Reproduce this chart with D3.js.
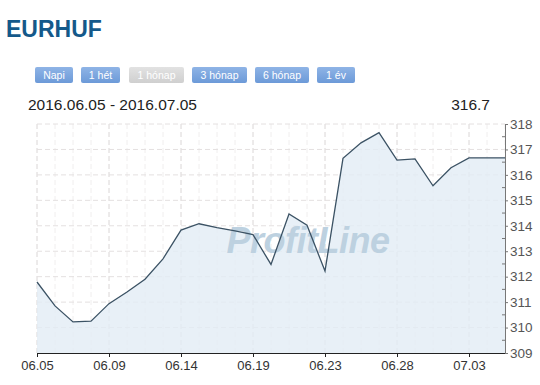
<!DOCTYPE html>
<html>
<head>
<meta charset="utf-8">
<script src="https://cdn.jsdelivr.net/npm/d3@7"></script>
<style>
  body { margin: 0; background: #fff; font-family: Arial, "Liberation Sans", sans-serif; }
</style>
</head>
<body>
<div id="chart"></div>
<script>
// Chart data (EURHUF, one month)
const values = [311.79, 310.85, 310.22, 310.25, 310.94, 311.4, 311.9, 312.7, 313.83,
  314.08, 313.93, 313.8, 313.65, 312.48, 314.46, 314.02, 312.22, 316.65, 317.26,
  317.66, 316.58, 316.63, 315.57, 316.28, 316.67, 316.67, 316.67];
const tickIndex = [0, 4, 8, 12, 16, 20, 24];
const tickLabels = ["06.05", "06.09", "06.14", "06.19", "06.23", "06.28", "07.03"];
const yTicks = [309, 310, 311, 312, 313, 314, 315, 316, 317, 318];
const buttons = ["Napi", "1 hét", "1 hónap", "3 hónap", "6 hónap", "1 év"];
const activeButton = "1 hónap";
const rangeText = "2016.06.05 - 2016.07.05";
const lastValue = "316.7";

const width = 540, height = 385;
const margin = {top: 124, right: 35, bottom: 32, left: 37};
const innerW = width - margin.left - margin.right;
const innerH = height - margin.top - margin.bottom;

const svg = d3.select("#chart").append("svg")
  .attr("width", width)
  .attr("height", height)
  .style("font-family", "Arial, 'Liberation Sans', sans-serif");

// Title
svg.append("text")
  .attr("x", 6).attr("y", 37)
  .attr("fill", "#14598a")
  .attr("font-size", "23px")
  .attr("font-weight", "bold")
  .text("EURHUF");

// Period buttons
const btnWidths = {"Napi": 38, "1 hét": 39, "1 hónap": 55, "3 hónap": 55, "6 hónap": 54, "1 év": 38};
const btnStarts = {"Napi": 35, "1 hét": 81, "1 hónap": 129, "3 hónap": 192, "6 hónap": 255, "1 év": 317};
const defs = svg.append("defs");
const gBlue = defs.append("linearGradient").attr("id", "btnBlue").attr("x1", 0).attr("x2", 0).attr("y1", 0).attr("y2", 1);
gBlue.append("stop").attr("offset", "0%").attr("stop-color", "#8fb4e6");
gBlue.append("stop").attr("offset", "100%").attr("stop-color", "#6c9ad8");
const gGrey = defs.append("linearGradient").attr("id", "btnGrey").attr("x1", 0).attr("x2", 0).attr("y1", 0).attr("y2", 1);
gGrey.append("stop").attr("offset", "0%").attr("stop-color", "#e2e2e2");
gGrey.append("stop").attr("offset", "100%").attr("stop-color", "#cfcfcf");

const btn = svg.append("g").selectAll("g").data(buttons).join("g")
  .attr("transform", d => `translate(${btnStarts[d]},67)`);
btn.append("rect")
  .attr("width", d => btnWidths[d]).attr("height", 16).attr("rx", 2)
  .attr("fill", d => d === activeButton ? "url(#btnGrey)" : "url(#btnBlue)");
btn.append("text")
  .attr("x", d => btnWidths[d] / 2).attr("y", 12)
  .attr("text-anchor", "middle")
  .attr("fill", "#fff")
  .attr("font-size", "10.5px")
  .text(d => d);

// Header texts
svg.append("text")
  .attr("x", 28).attr("y", 110)
  .attr("fill", "#222").attr("font-size", "15.5px")
  .text(rangeText);
svg.append("text")
  .attr("x", 490).attr("y", 110)
  .attr("text-anchor", "end")
  .attr("fill", "#222").attr("font-size", "15.5px")
  .text(lastValue);

const g = svg.append("g").attr("transform", `translate(${margin.left},${margin.top})`);

const x = d3.scaleLinear().domain([0, values.length - 1]).range([0, innerW]);
const y = d3.scaleLinear().domain([309, 318]).range([innerH, 0]);

// Minor vertical grid (every point)
g.append("g").selectAll("line").data(d3.range(values.length)).join("line")
  .attr("x1", d => x(d)).attr("x2", d => x(d))
  .attr("y1", 0).attr("y2", innerH)
  .attr("stroke", "#f0eeee").attr("stroke-dasharray", "5,3");

// Major vertical grid
g.append("g").selectAll("line").data(tickIndex).join("line")
  .attr("x1", d => x(d)).attr("x2", d => x(d))
  .attr("y1", 0).attr("y2", innerH)
  .attr("stroke", "#e2dede").attr("stroke-dasharray", "5,3");

// Horizontal grid
g.append("g").selectAll("line").data(yTicks.slice(1)).join("line")
  .attr("x1", 0).attr("x2", innerW)
  .attr("y1", d => y(d)).attr("y2", d => y(d))
  .attr("stroke", "#e4e0e0").attr("stroke-dasharray", "5,3");

// Area
const area = d3.area()
  .x((d, i) => x(i))
  .y0(innerH)
  .y1(d => y(d));
g.append("path")
  .datum(values)
  .attr("fill", "#e2ecf5")
  .attr("opacity", 0.8)
  .attr("d", area);

// Watermark
g.append("text")
  .attr("x", 271).attr("y", 129)
  .attr("text-anchor", "middle")
  .attr("fill", "#bdd1e0")
  .attr("font-size", "36px")
  .attr("font-weight", "900")
  .attr("font-style", "italic")
  .attr("letter-spacing", "-0.5px")
  .text("ProfitLine");

// Line
const line = d3.line()
  .x((d, i) => x(i))
  .y(d => y(d));
g.append("path")
  .datum(values)
  .attr("fill", "none")
  .attr("stroke", "#3b5264")
  .attr("stroke-width", 1.3)
  .attr("d", line);

// Bottom axis
const xAxis = g.append("g")
  .attr("transform", `translate(0,${innerH})`)
  .call(d3.axisBottom(x)
    .tickValues(tickIndex)
    .tickFormat((d, i) => tickLabels[i])
    .tickSize(4)
    .tickSizeOuter(0));
xAxis.select(".domain").attr("stroke", "#222");
xAxis.selectAll(".tick line").attr("stroke", "#222");
xAxis.selectAll("text").attr("fill", "#333").attr("font-size", "13px")
  .attr("font-family", "Arial, 'Liberation Sans', sans-serif").attr("dy", "0.75em");

// Right axis
const yAxis = g.append("g")
  .attr("transform", `translate(${innerW},0)`)
  .call(d3.axisRight(y)
    .tickValues(yTicks)
    .tickFormat(d3.format("d"))
    .tickSize(3)
    .tickPadding(2)
    .tickSizeOuter(0));
yAxis.select(".domain").attr("stroke", "#777");
yAxis.selectAll(".tick line").attr("stroke", "#777");
yAxis.selectAll("text").attr("fill", "#555").attr("font-size", "13.5px")
  .attr("font-family", "Arial, 'Liberation Sans', sans-serif");

// Minor ticks on right axis
g.append("g").selectAll("line").data(yTicks.slice(1).map(v => v - 0.5)).join("line")
  .attr("x1", innerW - 3).attr("x2", innerW)
  .attr("y1", d => y(d)).attr("y2", d => y(d))
  .attr("stroke", "#777");
</script>
</body>
</html>
